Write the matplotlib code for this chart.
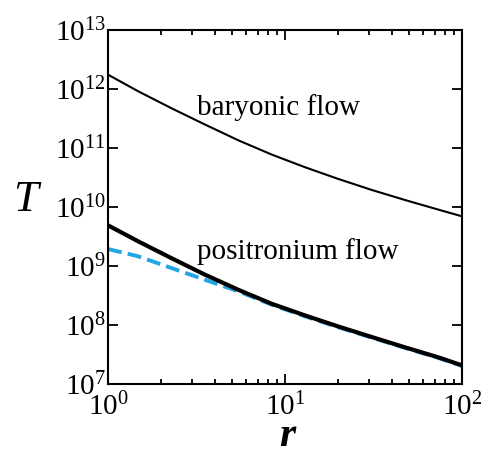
import matplotlib
matplotlib.use("Agg")
import matplotlib.pyplot as plt
from matplotlib.ticker import LogLocator, NullLocator

plt.rcParams['font.family'] = 'serif'
plt.rcParams['font.serif'] = ['Liberation Serif', 'DejaVu Serif']
plt.rcParams['mathtext.fontset'] = 'custom'
plt.rcParams['mathtext.rm'] = 'Liberation Serif'
plt.rcParams['mathtext.it'] = 'Liberation Serif:italic'
plt.rcParams['mathtext.bf'] = 'Liberation Serif:bold'

# radius r
r = [1.0, 1.48, 2.28, 3.52, 5.45, 8.41, 13.0, 20.0, 31.0, 47.8, 73.8, 100.0]

# temperature of the baryonic flow
T_baryon = [1.75e12, 9.16e11, 4.73e11, 2.51e11, 1.35e11, 7.74e10,
            4.71e10, 2.99e10, 1.94e10, 1.31e10, 9.0e9, 6.95e9]

# temperature of the positronium flow (solid black)
T_pos = [4.89e9, 2.62e9, 1.36e9, 7.16e8, 3.95e8, 2.29e8,
         1.45e8, 9.44e7, 6.24e7, 4.17e7, 2.82e7, 2.07e7]

# blue dashed curve
T_approx = [1.94e9, 1.46e9, 9.25e8, 5.86e8, 3.72e8, 2.21e8,
            1.40e8, 9.15e7, 6.10e7, 4.08e7, 2.76e7, 2.02e7]

fig = plt.figure(figsize=(4.89, 4.53), dpi=100)
ax = fig.add_axes([108/489, 1 - 384/453, 354/489, 354/453])

ax.plot(r, T_approx, color='#21a6e3', lw=2.8, ls=(0, (3.6, 1.6)))
ax.plot(r, T_pos, color='black', lw=3.0, solid_joinstyle='round')
ax.plot(r, T_baryon, color='black', lw=1.5, solid_joinstyle='round')

ax.set_xscale('log')
ax.set_yscale('log')
ax.set_xlim(1, 100)
ax.set_ylim(1e7, 1e13)
ax.yaxis.set_major_locator(LogLocator(base=10, numticks=20))
ax.yaxis.set_minor_locator(NullLocator())

for s in ax.spines.values():
    s.set_linewidth(1.5)
ax.tick_params(which='both', direction='in', top=True, right=True, width=1.3)
ax.tick_params(which='major', length=7)
ax.tick_params(which='minor', length=3.5)
ax.tick_params(axis='y', labelsize=21, pad=1.5)
ax.tick_params(axis='x', labelsize=21, pad=6)

ax.text(3.18, 3.67e11, 'baryonic flow', fontsize=21, ha='left', va='baseline')
ax.text(3.18, 1.3e9, 'positronium flow', fontsize=21, ha='left', va='baseline')

fig.text(25/489, 1 - 200/453, 'T', fontsize=32, style='italic',
         ha='center', va='center')
fig.text(287/489, 1 - 436/453, 'r', fontsize=30, style='italic',
         weight='bold', ha='center', va='center')

fig.savefig('out.png', dpi=100)
